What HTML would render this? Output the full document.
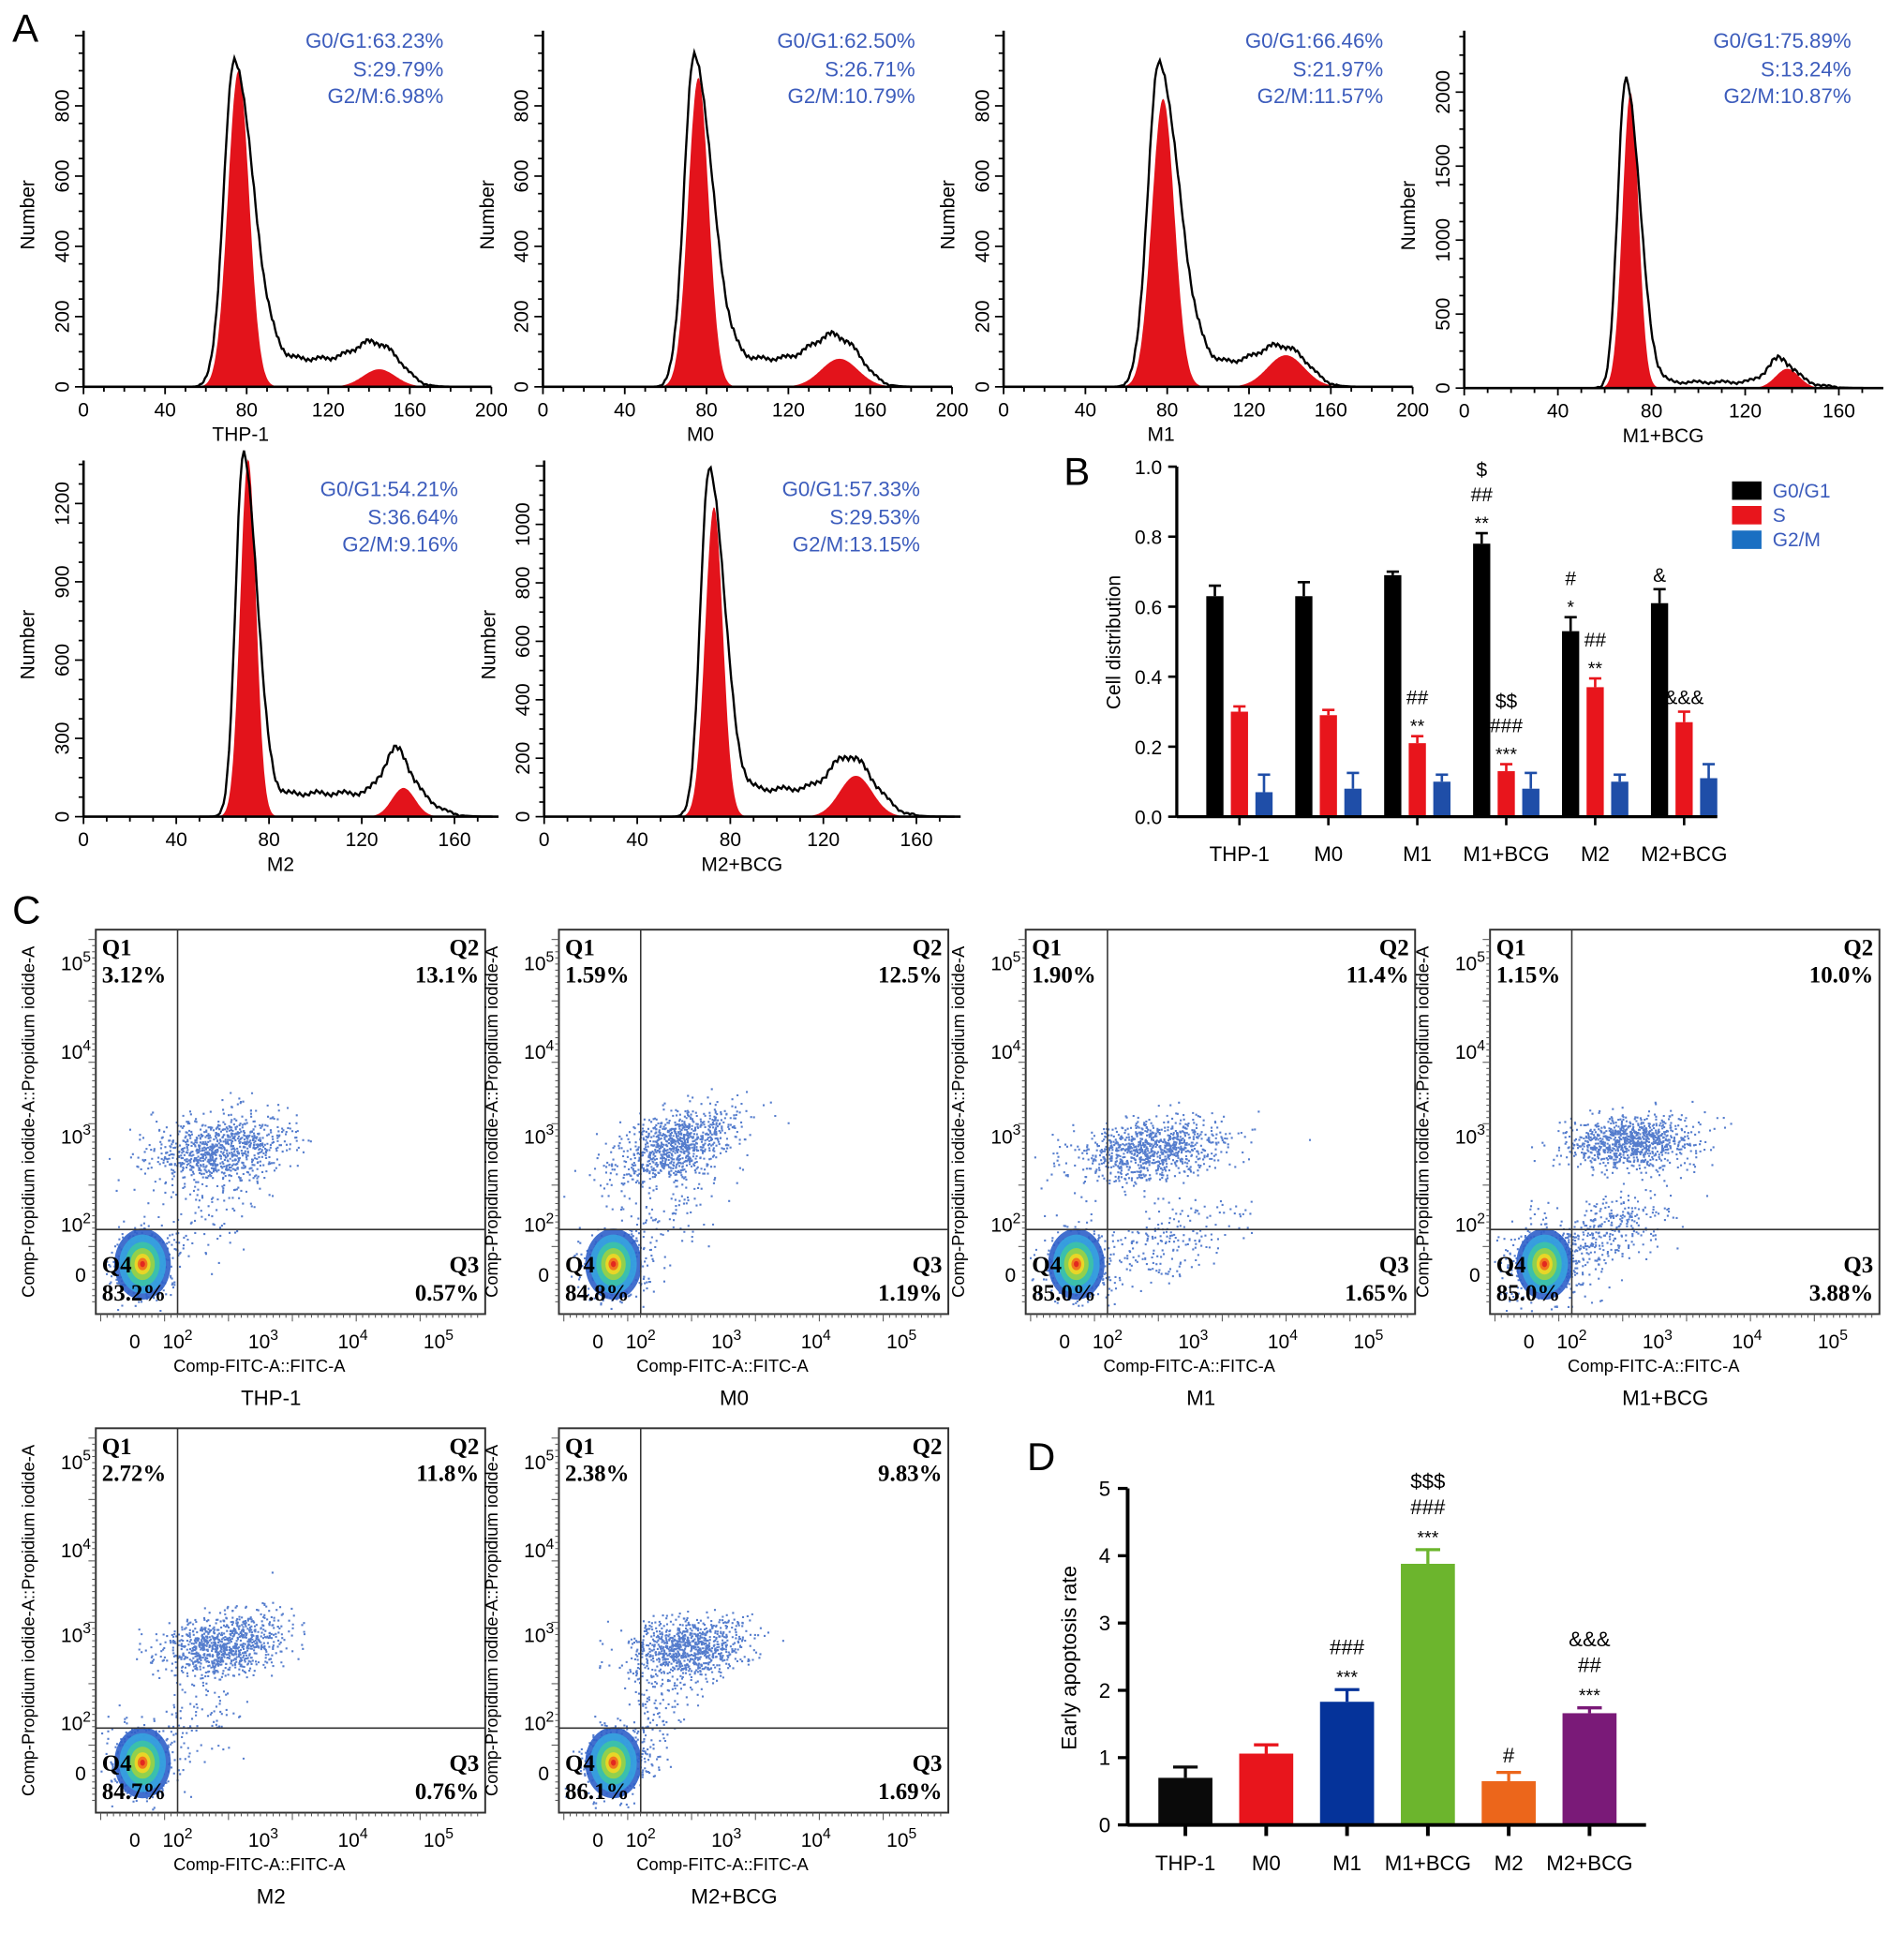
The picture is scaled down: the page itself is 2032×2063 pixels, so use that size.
<!DOCTYPE html>
<html><head><meta charset="utf-8"><title>Cell cycle and apoptosis figure</title>
<style>
html,body{margin:0;padding:0;background:#fff;}
svg{display:block;}
text{font-family:"Liberation Sans",Arial,sans-serif;}
text.serif{font-family:"Liberation Serif",serif;font-weight:bold;}
</style></head>
<body>
<svg id="fig" xmlns="http://www.w3.org/2000/svg" width="2032" height="2063" viewBox="0 0 1550 1574" preserveAspectRatio="none"></svg>
<script>
// ---------- Panel A data (histogram fits) ----------
const histNames=['THP-1','M0','M1','M1+BCG','M2','M2+BCG'];
const pctG1=['63.23','62.50','66.46','75.89','54.21','57.33'];
const pctS=['29.79','26.71','21.97','13.24','36.64','29.53'];
const pctG2=['6.98','10.79','11.57','10.87','9.16','13.15'];
const g1Mean=[76,76,78,71,71,73];
const g1Sd=[5.2,5,5.5,3.4,3.4,3.8];
const g1Height=[900,880,820,2000,1370,1060];
const blackPeak=[930,940,920,2100,1390,1190];
const sLevel=[80,80,70,40,90,95];
const g2Mean=[145,145,138,138,138,134];
const g2Sd=[8,9,9,5,5,7];
const g2Height=[50,80,90,130,110,140];
const g2Bump=[130,150,120,200,260,210];
const histXTicks=[[0,40,80,120,160,200],[0,40,80,120,160,200],[0,40,80,120,160,200],[0,40,80,120,160],[0,40,80,120,160],[0,40,80,120,160]];
const histYTicks=[[0,200,400,600,800],[0,200,400,600,800],[0,200,400,600,800],[0,500,1000,1500,2000],[0,300,600,900,1200],[0,200,400,600,800,1000]];

// ---------- Panel B data ----------
const bGroups=['THP-1','M0','M1','M1+BCG','M2','M2+BCG'];
const bG1=[0.63,0.63,0.69,0.78,0.53,0.61];
const bG1Err=[0.03,0.04,0.01,0.03,0.04,0.04];
const bS=[0.30,0.29,0.21,0.13,0.37,0.27];
const bSErr=[0.015,0.015,0.02,0.02,0.025,0.03];
const bG2=[0.07,0.08,0.10,0.08,0.10,0.11];
const bG2Err=[0.05,0.045,0.02,0.045,0.02,0.04];
const bG1Ann=[[],[],[],['**','##','$'],['*','#'],['&']];
const bSAnn=[[],[],['**','##'],['***','###','$$'],['**','##'],['&&&']];
const bYTicks=[0,0.2,0.4,0.6,0.8,1.0];

// ---------- Panel C data ----------
const flowNames=['THP-1','M0','M1','M1+BCG','M2','M2+BCG'];
const flowQ1=['3.12%','1.59%','1.90%','1.15%','2.72%','2.38%'];
const flowQ2=['13.1%','12.5%','11.4%','10.0%','11.8%','9.83%'];
const flowQ3=['0.57%','1.19%','1.65%','3.88%','0.76%','1.69%'];
const flowQ4=['83.2%','84.8%','85.0%','85.0%','84.7%','86.1%'];
const flowClusters=[
 [[.32,.57,.09,.045,900,.3],[.30,.72,.08,.08,110,.5],[.12,.87,.045,.05,350,0]],
 [[.30,.56,.08,.05,900,.5],[.28,.74,.07,.08,110,.6],[.14,.87,.045,.05,350,0]],
 [[.32,.57,.10,.04,950,.3],[.35,.82,.10,.06,220,.6],[.13,.87,.045,.05,350,0]],
 [[.36,.55,.08,.035,950,.1],[.30,.78,.08,.05,330,.5],[.14,.87,.055,.05,450,0]],
 [[.33,.56,.08,.04,900,.3],[.28,.72,.06,.08,100,.3],[.12,.87,.045,.05,350,0]],
 [[.33,.57,.08,.04,900,.2],[.25,.74,.05,.08,140,.5],[.14,.87,.045,.05,350,0]]
];
const flowBlob=[[.12,.87],[.14,.87],[.13,.87],[.14,.87],[.12,.87],[.14,.87]];
const flowXTickLabels=['0','2','3','4','5'];

// ---------- Panel D data ----------
const dGroups=['THP-1','M0','M1','M1+BCG','M2','M2+BCG'];
const dVals=[0.70,1.06,1.83,3.88,0.65,1.66];
const dErr=[0.16,0.13,0.18,0.21,0.13,0.08];
const dColors=['#0a0a0a','#e8151c','#05339a','#6cb52d','#ec661b','#7a1a78'];
const dAnn=[[],[],['***','###'],['***','###','$$$'],['#'],['***','##','&&&']];
const dYTicks=[0,1,2,3,4,5];

const NS='http://www.w3.org/2000/svg';
const svg=document.getElementById('fig');
function mk(tag,attrs,name,parent){
  const e=document.createElementNS(NS,tag);
  for(const k in attrs) e.setAttribute(k,attrs[k]);
  
  
  (parent||svg).appendChild(e);
  return e;
}
function tx(x,y,s,attrs,name,parent){
  const a=Object.assign({x:x,y:y},attrs||{});
  const e=mk('text',a,name,parent);
  e.textContent=s;
  return e;
}
function line(x1,y1,x2,y2,w,c,name,parent){
  return mk('line',{x1:x1,y1:y1,x2:x2,y2:y2,stroke:c||'#000','stroke-width':w||1},name,parent);
}

// panel letters
tx(10,34,'A',{'font-size':32},'panel-label-a');
tx(866,395,'B',{'font-size':32},'panel-label-b');
tx(10,752,'C',{'font-size':32},'panel-label-c');
tx(836,1197,'D',{'font-size':32},'panel-label-d');

// ---------- Panel A ----------
const histLayout=[
 {x0:68,xs:1.66,xEnd:200,base:315,ys:0.286,top:25,tr:361,ty:33},
 {x0:442,xs:1.665,xEnd:200,base:315,ys:0.286,top:25,tr:745,ty:33},
 {x0:817,xs:1.665,xEnd:200,base:315,ys:0.286,top:25,tr:1126,ty:33},
 {x0:1192,xs:1.906,xEnd:179,base:316,ys:0.1205,top:25,tr:1507,ty:33},
 {x0:68,xs:1.8875,xEnd:179,base:665,ys:0.2125,top:375,tr:373,ty:398},
 {x0:443,xs:1.894,xEnd:179,base:665,ys:0.238,top:375,tr:749,ty:398}
];
function gauss(x,m,s,h){return h*Math.exp(-((x-m)*(x-m))/(2*s*s));}
function sig(z){return 1/(1+Math.exp(-z));}
histLayout.forEach((L,i)=>{
  const g=mk('g',{},'histogram-'+histNames[i].toLowerCase().replace('+','-'));
  const X=v=>L.x0+v*L.xs, Y=v=>L.base-v*L.ys;
  let p1='M'+X(g1Mean[i]-4*g1Sd[i])+','+Y(0);
  for(let v=g1Mean[i]-4*g1Sd[i];v<=g1Mean[i]+4*g1Sd[i];v+=0.5) p1+=' L'+X(v).toFixed(1)+','+Y(gauss(v,g1Mean[i],g1Sd[i],g1Height[i])).toFixed(1);
  p1+=' L'+X(g1Mean[i]+4*g1Sd[i])+','+Y(0)+'Z';
  mk('path',{d:p1,fill:'#e3131b'},'g0-g1-fit',g);
  let p2='M'+X(g2Mean[i]-3.5*g2Sd[i])+','+Y(0);
  for(let v=g2Mean[i]-3.5*g2Sd[i];v<=g2Mean[i]+3.5*g2Sd[i];v+=0.5) p2+=' L'+X(v).toFixed(1)+','+Y(gauss(v,g2Mean[i],g2Sd[i],g2Height[i])).toFixed(1);
  p2+=' L'+X(g2Mean[i]+3.5*g2Sd[i])+','+Y(0)+'Z';
  mk('path',{d:p2,fill:'#e3131b'},'g2-m-fit',g);
  let d='';
  const m=g1Mean[i]-2;
  for(let v=50;v<=Math.min(L.xEnd-2,185);v+=0.8){
    const s=v<m?g1Sd[i]:g1Sd[i]*1.75;
    let y=gauss(v,m,s,blackPeak[i]);
    y+=sLevel[i]*sig((v-(m+12))/3)*sig((g2Mean[i]+14-v)/4);
    y+=Math.max(0,g2Bump[i]-sLevel[i])*Math.exp(-((v-g2Mean[i]+3)**2)/(2*(g2Sd[i]*1.1)**2));
    const jit=(Math.sin(v*7.3+i)*0.5+Math.sin(v*13.1)*0.5)*(y>5?Math.min(14,y*0.06+4):0);
    y=Math.max(0,y+jit*(blackPeak[i]/1000));
    d+=(d?' L':'M')+X(v).toFixed(1)+','+Y(y).toFixed(1);
  }
  mk('path',{d:d,fill:'none',stroke:'#000','stroke-width':1.8},'dna-content-histogram',g);
  line(L.x0,L.base,L.x0+L.xEnd*L.xs,L.base,2,'#000','x-axis',g);
  line(L.x0,L.base,L.x0,L.top,2,'#000','y-axis',g);
  for(let v=0;v<=L.xEnd;v+=10) line(X(v),L.base,X(v),L.base+(v%40===0?6:4),1.4,'#000','x-tick',g);
  histXTicks[i].forEach(v=>tx(X(v),L.base+24,String(v),{'font-size':16,'text-anchor':'middle'},'x-tick-label',g));
  const yt=histYTicks[i], step=yt[1]-yt[0];
  for(let v=0;v<=yt[yt.length-1]+step;v+=step/4){ if(Y(v)<L.top) break; line(L.x0-(v%step===0?7:4),Y(v),L.x0,Y(v),1.3,'#000','y-tick',g);}
  yt.forEach(v=>tx(L.x0-12,Y(v),String(v),{'font-size':16,'text-anchor':'middle',transform:'rotate(-90 '+(L.x0-12)+' '+Y(v)+')'},'y-tick-label',g));
  const ny=(L.base+L.top)/2+5;
  tx(L.x0-40,ny,'Number',{'font-size':16,'text-anchor':'middle',transform:'rotate(-90 '+(L.x0-40)+' '+ny+')'},'y-axis-title',g);
  tx(L.x0+100*L.xs*(L.xEnd>190?0.77:0.85),L.base+44,histNames[i],{'font-size':16,'text-anchor':'middle'},'x-axis-title',g);
  const tc={'font-size':17,'text-anchor':'end',fill:'#3c5cbc'};
  tx(L.tr,L.ty+6,'G0/G1:'+pctG1[i]+'%',tc,'g0-g1-percent',g);
  tx(L.tr,L.ty+29,'S:'+pctS[i]+'%',tc,'s-percent',g);
  tx(L.tr,L.ty+51,'G2/M:'+pctG2[i]+'%',tc,'g2-m-percent',g);
});

// ---------- Panel B ----------
(function(){
  const g=mk('g',{},'cell-distribution-chart');
  const x0=958,x1=1398,yb=665,yt=380;
  const Y=v=>yb-(v/1.0)*(yb-yt);
  const cx=i=>1009+i*72.4;
  const series=[[bG1,bG1Err,'#000',-20,bG1Ann],[bS,bSErr,'#e8151c',0,bSAnn],[bG2,bG2Err,'#1f4ea8',20,null]];
  series.forEach((s,si)=>{
    s[0].forEach((v,i)=>{
      const x=cx(i)+s[3];
      mk('rect',{x:x-7,y:Y(v),width:14,height:yb-Y(v),fill:s[2]},['g0-g1-bar','s-bar','g2-m-bar'][si],g);
      const et=Y(v+s[1][i]);
      line(x,Y(v),x,et,2,s[2],'error-bar',g);
      line(x-5,et,x+5,et,2,s[2],'error-cap',g);
      if(s[4]) s[4][i].forEach((a,k)=>{
        const star=a[0]==='*';
        tx(x,et-6-k*20+(star?3:0),a,{'font-size':star?15:16,'text-anchor':'middle'},'significance-mark',g);
      });
    });
  });
  line(x0,yb,x1,yb,2.5,'#000','x-axis',g);
  line(x0,yb,x0,yt,2.5,'#000','y-axis',g);
  bYTicks.forEach(v=>{line(x0-7,Y(v),x0,Y(v),2,'#000','y-tick',g);
    tx(x0-12,Y(v)+6,v.toFixed(1),{'font-size':16,'text-anchor':'end'},'y-tick-label',g);});
  bGroups.forEach((n,i)=>{line(cx(i),yb,cx(i),yb+7,2,'#000','x-tick',g);
    tx(cx(i),yb+36,n,{'font-size':17,'text-anchor':'middle'},'x-tick-label',g);});
  tx(912,523,'Cell distribution',{'font-size':16,'text-anchor':'middle',transform:'rotate(-90 912 523)'},'y-axis-title',g);
  const leg=[['G0/G1','#000'],['S','#e8151c'],['G2/M','#1a6fc2']];
  leg.forEach((l,k)=>{
    mk('rect',{x:1410,y:392+k*20,width:24,height:15,fill:l[1]},'legend-swatch',g);
    tx(1443,405+k*20,l[0],{'font-size':16,fill:'#3c5cbc'},'legend-entry',g);
  });
})();

// ---------- Panel C ----------
function rng(seed){return function(){seed|=0;seed=seed+0x6D2B79F5|0;let t=Math.imul(seed^seed>>>15,1|seed);t=t+Math.imul(t^t>>>7,61|t)^t;return((t^t>>>14)>>>0)/4294967296;};}
const flowBoxes=[[78,757],[455,757],[835,757],[1213,757],[78,1163],[455,1163]];
flowBoxes.forEach((b,i)=>{
  const g=mk('g',{},'flow-plot-'+flowNames[i].toLowerCase().replace('+','-'));
  const W=317,H=313,L=b[0],T=b[1];
  const fx=f=>L+f*W, fy=f=>T+f*H;
  const r=rng(1234+i*77);
  const gn=()=>{let u=r()||1e-6,v=r();return Math.sqrt(-2*Math.log(u))*Math.cos(2*Math.PI*v);};
  let dots='';
  flowClusters[i].forEach(c=>{
    for(let k=0;k<c[4];k++){
      const a=gn(),bb=gn();
      const px=c[0]+c[2]*a, py=c[1]+c[3]*(c[5]*(-a)+Math.sqrt(1-c[5]*c[5])*bb);
      if(px<0.01||px>0.99||py<0.01||py>0.99) continue;
      dots+='M'+fx(px).toFixed(1)+','+fy(py).toFixed(1)+'h1.6v1.6h-1.6z';
    }
  });
  mk('path',{d:dots,fill:'#2a5cc0','fill-opacity':0.8},'event-dots',g);
  const bl=flowBlob[i], bx=fx(bl[0]), by=fy(bl[1]);
  const rings=[[23,29,'#2d5fc9'],[19,24,'#36a3e0'],[14,18,'#3cc3a6'],[10,13,'#9bd143'],[6.5,8.5,'#f2d624'],[4,5,'#f26a1f'],[2,2.5,'#e02020']];
  rings.forEach(rr=>mk('ellipse',{cx:bx,cy:by,rx:rr[0],ry:rr[1],fill:rr[2],'fill-opacity':0.9},'density-contour',g));
  mk('rect',{x:L,y:T,width:W,height:H,fill:'none',stroke:'#333','stroke-width':1.5},'plot-frame',g);
  line(fx(0.21),T,fx(0.21),T+H,1.2,'#333','fitc-gate-line',g);
  line(L,fy(0.78),L+W,fy(0.78),1.2,'#333','pi-gate-line',g);
  const q={'font-size':19,'class':'serif'};
  const qe={'font-size':19,'class':'serif','text-anchor':'end'};
  tx(L+5,T+21,'Q1',q,'q1-label',g); tx(L+5,T+43,flowQ1[i],q,'q1-percent',g);
  tx(L+W-5,T+21,'Q2',qe,'q2-label',g); tx(L+W-5,T+43,flowQ2[i],qe,'q2-percent',g);
  tx(L+5,T+279,'Q4',q,'q4-label',g); tx(L+5,T+302,flowQ4[i],q,'q4-percent',g);
  tx(L+W-5,T+279,'Q3',qe,'q3-label',g); tx(L+W-5,T+302,flowQ3[i],qe,'q3-percent',g);
  for(let k=0;k<60;k++) line(L,T+8+k*5,L-(k%10===0?6:3),T+8+k*5,0.8,'#555','y-minor-tick',g);
  for(let k=0;k<60;k++) line(L+4+k*5.2,T+H,L+4+k*5.2,T+H+(k%10===0?6:3),0.8,'#555','x-minor-tick',g);
  const xpos=[.10,.21,.43,.66,.88], ypos=[.90,.77,.54,.32,.09];
  xpos.forEach((p,k)=>{
    const t=tx(fx(p),T+H+28,k===0?'0':'10',{'font-size':16,'text-anchor':'middle'},'x-tick-label',g);
    if(k>0){const s=document.createElementNS(NS,'tspan');s.setAttribute('dy','-7');s.setAttribute('font-size','12');s.textContent=flowXTickLabels[k];t.appendChild(s);}
  });
  ypos.forEach((p,k)=>{
    const t=tx(L-(k===0?8:16),fy(p)+5,k===0?'0':'10',{'font-size':16,'text-anchor':'end'},'y-tick-label',g);
    if(k>0){const s=document.createElementNS(NS,'tspan');s.setAttribute('dy','-7');s.setAttribute('font-size','12');s.textContent=flowXTickLabels[k];t.appendChild(s);t.setAttribute('x',L-4);}
  });
  tx(L+W*0.42,T+H+47,'Comp-FITC-A::FITC-A',{'font-size':14,'text-anchor':'middle'},'x-axis-title',g);
  const yc=T+H/2, yx=L-50;
  tx(yx,yc,'Comp-Propidium iodide-A::Propidium iodide-A',{'font-size':14,'text-anchor':'middle',transform:'rotate(-90 '+yx+' '+yc+')'},'y-axis-title',g);
  tx(L+W*0.45,T+H+74,flowNames[i],{'font-size':17,'text-anchor':'middle'},'sample-name',g);
});

// ---------- Panel D ----------
(function(){
  const g=mk('g',{},'early-apoptosis-chart');
  const x0=918,x1=1340,yb=1486,ys=54.8;
  const Y=v=>yb-v*ys;
  const cx=i=>965+i*65.8;
  dVals.forEach((v,i)=>{
    const x=cx(i);
    mk('rect',{x:x-22,y:Y(v),width:44,height:yb-Y(v),fill:dColors[i]},'apoptosis-bar',g);
    const et=Y(v+dErr[i]);
    line(x,Y(v),x,et,2.5,dColors[i],'error-bar',g);
    line(x-10,et,x+10,et,2.5,dColors[i],'error-cap',g);
    dAnn[i].forEach((a,k)=>{
      const star=a[0]==='*';
      tx(x,et-8-k*21+(star?3:0),a,{'font-size':star?15:17,'text-anchor':'middle'},'significance-mark',g);
    });
  });
  line(x0,yb,x1,yb,3,'#000','x-axis',g);
  line(x0,yb,x0,Y(5),3,'#000','y-axis',g);
  dYTicks.forEach(v=>{line(x0-8,Y(v),x0,Y(v),2.5,'#000','y-tick',g);
    tx(x0-14,Y(v)+6,String(v),{'font-size':17,'text-anchor':'end'},'y-tick-label',g);});
  dGroups.forEach((n,i)=>{line(cx(i),yb,cx(i),yb+9,3,'#000','x-tick',g);
    tx(cx(i),yb+37,n,{'font-size':17,'text-anchor':'middle'},'x-tick-label',g);});
  tx(876,1350,'Early apoptosis rate',{'font-size':17,'text-anchor':'middle',transform:'rotate(-90 876 1350)'},'y-axis-title',g);
})();
</script>
</body></html>
